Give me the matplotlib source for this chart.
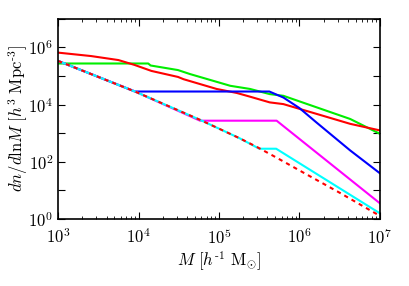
import matplotlib
matplotlib.use("Agg")
import matplotlib.pyplot as plt
import numpy as np

plt.rcParams['mathtext.fontset'] = 'cm'
plt.rcParams['font.family'] = 'serif'
plt.rcParams['font.serif'] = ['cmr10', 'DejaVu Serif']
plt.rcParams['axes.formatter.use_mathtext'] = True

# log10(M) / log10(dn/dlnM)
base_x = [3.0, 3.956, 4.764, 5.26, 5.485, 5.72, 6.0, 6.5, 7.0]
base_y = [5.53, 4.46, 3.47, 2.82, 2.50, 2.14, 1.70, 0.92, 0.11]

red_x = [3.0, 3.41, 3.75, 3.95, 4.16, 4.49, 4.56, 4.97, 5.22, 5.385, 5.63, 5.80, 6.21, 6.63, 7.0]
red_y = [5.82, 5.70, 5.56, 5.39, 5.18, 4.97, 4.89, 4.55, 4.41, 4.28, 4.08, 4.02, 3.68, 3.33, 3.10]

green_x = [3.0, 4.12, 4.15, 4.49, 4.64, 5.14, 5.385, 5.63, 5.80, 6.21, 6.63, 7.0]
green_y = [5.44, 5.44, 5.37, 5.21, 5.07, 4.66, 4.55, 4.37, 4.31, 3.91, 3.50, 2.98]

blue_x = [3.0, 3.956, 5.625, 5.80, 6.0, 6.21, 6.63, 7.0]
blue_y = [5.53, 4.46, 4.46, 4.25, 3.88, 3.38, 2.40, 1.60]

magenta_x = [3.0, 3.956, 4.764, 5.716, 7.0]
magenta_y = [5.53, 4.46, 3.44, 3.44, 0.55]

cyan_x = [3.0, 3.956, 4.764, 5.26, 5.50, 5.71, 7.0]
cyan_y = [5.53, 4.46, 3.47, 2.82, 2.46, 2.46, 0.20]

fig = plt.figure(figsize=(4.09, 2.86), dpi=100)
ax = fig.add_axes([0.142, 0.234, 0.787, 0.700])

lw = 1.5
def pw(a):
    return 10.0 ** np.array(a)

ax.plot(pw(green_x), pw(green_y), color='#00ee00', lw=lw)
ax.plot(pw(red_x), pw(red_y), color='#ff0000', lw=lw)
ax.plot(pw(blue_x), pw(blue_y), color='#0000ff', lw=lw)
ax.plot(pw(magenta_x), pw(magenta_y), color='#ff00ff', lw=lw)
ax.plot(pw(cyan_x), pw(cyan_y), color='#00ffff', lw=lw)
ax.plot(pw(base_x), pw(base_y), color='#ff0000', lw=lw, ls=(0, (2, 2)))

ax.set_xscale('log')
ax.set_yscale('log')
ax.set_xlim(1e3, 1e7)
ax.set_ylim(1, 1e7)

ax.set_xticks([1e3, 1e4, 1e5, 1e6, 1e7])
ax.set_xticklabels([r'$10^{3}$', r'$10^{4}$', r'$10^{5}$', r'$10^{6}$', r'$10^{7}$'])
ax.set_yticks([10.0 ** k for k in range(8)])
ax.set_yticklabels([r'$10^{%d}$' % k if k % 2 == 0 and k < 7 else '' for k in range(8)])
ax.yaxis.set_minor_locator(matplotlib.ticker.NullLocator())

ax.tick_params(which='both', direction='in', top=True, right=True, labelsize=12)
ax.tick_params(which='major', length=5, width=0.8)
ax.tick_params(which='minor', length=2.5, width=0.6)
ax.tick_params(axis='x', pad=6)
for s in ax.spines.values():
    s.set_linewidth(1.2)

ax.set_xlabel(r'$M\ [h^{\text{-}1}\ \mathrm{M}_{\odot}]$', fontsize=12, labelpad=2)
ax.set_ylabel(r'$dn/d\mathrm{ln}M\ [h^{3}\ \mathrm{Mpc}^{\text{-}3}]$', fontsize=12, labelpad=-1)

fig.savefig('out.png', dpi=100)
